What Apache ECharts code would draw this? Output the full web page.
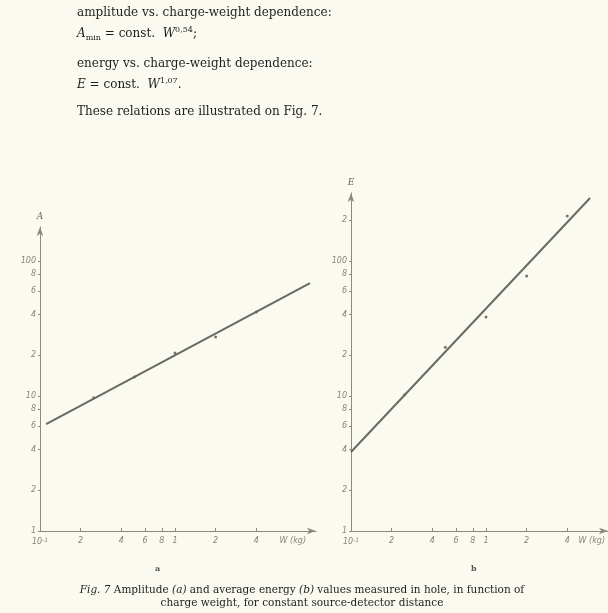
<!DOCTYPE html>
<html>
<head>
<meta charset="utf-8">
<script src="https://cdn.jsdelivr.net/npm/echarts@6/dist/echarts.min.js"></script>
<style>
  html, body { margin: 0; padding: 0; background: #fbfaf0; }
  #page { position: relative; width: 608px; height: 613px; overflow: hidden; background: #fbfaf0; }
  #chart { position: absolute; left: 0; top: 0; width: 608px; height: 613px; }
  .t { position: absolute; font-family: "DejaVu Serif", serif; color: #1e1e1e; white-space: nowrap; font-size: 12px; }
  .t i { font-style: italic; }
  .t sub { font-size: 8px; vertical-align: -3px; }
  .t sup { font-size: 8px; vertical-align: 5px; }
  .cap { font-size: 10.5px; }
</style>
</head>
<body>
<div id="page">
  <div id="chart"></div>
  <div class="t" style="left:77px;top:5px">amplitude vs. charge-weight dependence:</div>
  <div class="t" style="left:77px;top:25px"><i>A</i><sub>min</sub> = const. &nbsp;<i>W</i><sup>0,54</sup>;</div>
  <div class="t" style="left:77px;top:56px">energy vs. charge-weight dependence:</div>
  <div class="t" style="left:77px;top:76px"><i>E</i> = const. &nbsp;<i>W</i><sup>1,07</sup>.</div>
  <div class="t" style="left:77px;top:104px">These relations are illustrated on Fig. 7.</div>
  <div class="t cap" style="left:0;width:604px;text-align:center;top:583px"><i>Fig. 7</i> Amplitude <i>(a)</i> and average energy <i>(b)</i> values measured in hole, in function of</div>
  <div class="t cap" style="left:0;width:604px;text-align:center;top:596px">charge weight, for constant source-detector distance</div>
</div>
<script>
// Charge weight W (kg) ticks on the logarithmic abscissa
const weightTicks = [0.1, 0.2, 0.4, 0.6, 0.8, 1, 2, 4];
const weightTickLabels = ['10^-1', '2', '4', '6', '8', '1', '2', '4'];

// Ordinate ticks (amplitude A and energy E)
const ampTicks = [1, 2, 4, 6, 8, 10, 20, 40, 60, 80, 100];
const ampTickLabels = ['1', '2', '4', '6', '8', '10', '2', '4', '6', '8', '100'];
const energyTicks = [1, 2, 4, 6, 8, 10, 20, 40, 60, 80, 100, 200];
const energyTickLabels = ['1', '2', '4', '6', '8', '10', '2', '4', '6', '8', '100', '2'];

// Measured values
const chargeWeight = [0.25, 0.5, 1, 2, 4];
const amplitude = [9.7, 13.8, 20.8, 27.4, 41.9];
const energy = [10.2, 23, 38.5, 77.4, 215];

// Fitted power-law lines (end points)
const ampFitW = [0.111, 10];
const ampFit = [6.2, 68.7];
const energyFitW = [0.1, 5.9];
const energyFit = [3.85, 293];

const ampExponent = 'n=0,54';
const energyExponent = 'n=1,07';

const lg = Math.log10;
const pairs = (xs, ys) => xs.map((x, i) => [lg(x), lg(ys[i])]);

const tickColor = '#85857c';
const axisColor = '#8a8a82';
const lineColor = '#6a6a64';

function labelFor(ticks, labels) {
  return function (v) {
    for (let i = 0; i < ticks.length; i++) {
      if (Math.abs(lg(ticks[i]) - v) < 1e-6) {
        const s = labels[i];
        if (s === '10^-1') return '{b|10}{s|-1}';
        return s;
      }
    }
    return '';
  };
}

const tickFont = {
  color: tickColor, fontSize: 8, fontStyle: 'italic', fontFamily: 'DejaVu Sans',
  rich: {
    b: { fontSize: 8, fontStyle: 'italic', color: tickColor, fontFamily: 'DejaVu Sans' },
    s: { fontSize: 6, fontStyle: 'italic', color: tickColor, fontFamily: 'DejaVu Sans', verticalAlign: 'top', padding: [0, 0, 4, 0] }
  }
};

function xAxisFor(gridIndex, max, nameGap) {
  return {
    type: 'value', gridIndex, min: -1, max,
    splitLine: { show: false },
    axisLine: { show: true, onZero: false, lineStyle: { color: axisColor, width: 1 }, symbol: ['none', 'arrow'], symbolSize: [5, 9] },
    axisTick: { show: true, inside: true, length: 3, lineStyle: { color: axisColor }, customValues: weightTicks.map(lg) },
    axisLabel: Object.assign({ margin: 6, customValues: weightTicks.map(lg), formatter: labelFor(weightTicks, weightTickLabels) }, tickFont),
    name: 'W (kg)', nameLocation: 'end', nameGap,
    nameTextStyle: { color: tickColor, fontSize: 8, fontStyle: 'italic', fontFamily: 'DejaVu Sans', align: 'right', verticalAlign: 'top', padding: [6, 0, 0, 0] }
  };
}

function yAxisFor(gridIndex, max, ticks, labels, name) {
  return {
    type: 'value', gridIndex, min: 0, max,
    splitLine: { show: false },
    axisLine: { show: true, onZero: false, lineStyle: { color: axisColor, width: 1 }, symbol: ['none', 'arrow'], symbolSize: [5, 9] },
    axisTick: { show: true, length: 2, lineStyle: { color: axisColor }, customValues: ticks.map(lg) },
    axisLabel: Object.assign({ margin: 4, customValues: ticks.map(lg), formatter: labelFor(ticks, labels) }, tickFont),
    name, nameLocation: 'end', nameGap: 6,
    nameTextStyle: { color: '#666', fontSize: 9, fontStyle: 'italic', fontFamily: 'DejaVu Serif' }
  };
}

function fitSeries(xIdx, ws, vs, label) {
  const d = pairs(ws, vs);
  d[d.length - 1] = {
    value: d[d.length - 1],
    label: { show: true, formatter: label, position: 'top', offset: [-12, -2],
      color: tickColor, fontSize: 7, fontStyle: 'italic', fontFamily: 'DejaVu Sans' }
  };
  return {
    type: 'line', xAxisIndex: xIdx, yAxisIndex: xIdx, data: d,
    showSymbol: true, symbol: 'none', silent: true,
    lineStyle: { color: lineColor, width: 2 }
  };
}

function pointSeries(xIdx, ys) {
  return {
    type: 'scatter', xAxisIndex: xIdx, yAxisIndex: xIdx,
    data: pairs(chargeWeight, ys),
    symbol: 'circle', symbolSize: 3,
    itemStyle: { color: '#55554f' }, silent: true
  };
}

const chart = echarts.init(document.getElementById('chart'), null, { renderer: 'canvas' });
chart.setOption({
  backgroundColor: 'transparent',
  animation: false,
  grid: [
    { left: 40, top: 227, width: 276, height: 304 },
    { left: 351, top: 193, width: 257, height: 338 }
  ],
  xAxis: [
    xAxisFor(0, -1 + 276 / 135, -10),
    xAxisFor(1, -1 + 257 / 135, -3)
  ],
  yAxis: [
    yAxisFor(0, 304 / 135, ampTicks, ampTickLabels, 'A'),
    yAxisFor(1, 338 / 135, energyTicks, energyTickLabels, 'E')
  ],
  series: [
    fitSeries(0, ampFitW, ampFit, ampExponent),
    pointSeries(0, amplitude),
    fitSeries(1, energyFitW, energyFit, energyExponent),
    pointSeries(1, energy)
  ],
  graphic: [
    { type: 'text', left: 155, top: 565, style: { text: 'a', fontSize: 8, fontWeight: 'bold', fill: '#555', fontFamily: 'DejaVu Serif' } },
    { type: 'text', left: 471, top: 565, style: { text: 'b', fontSize: 8, fontWeight: 'bold', fill: '#555', fontFamily: 'DejaVu Serif' } }
  ]
});
</script>
</body>
</html>
